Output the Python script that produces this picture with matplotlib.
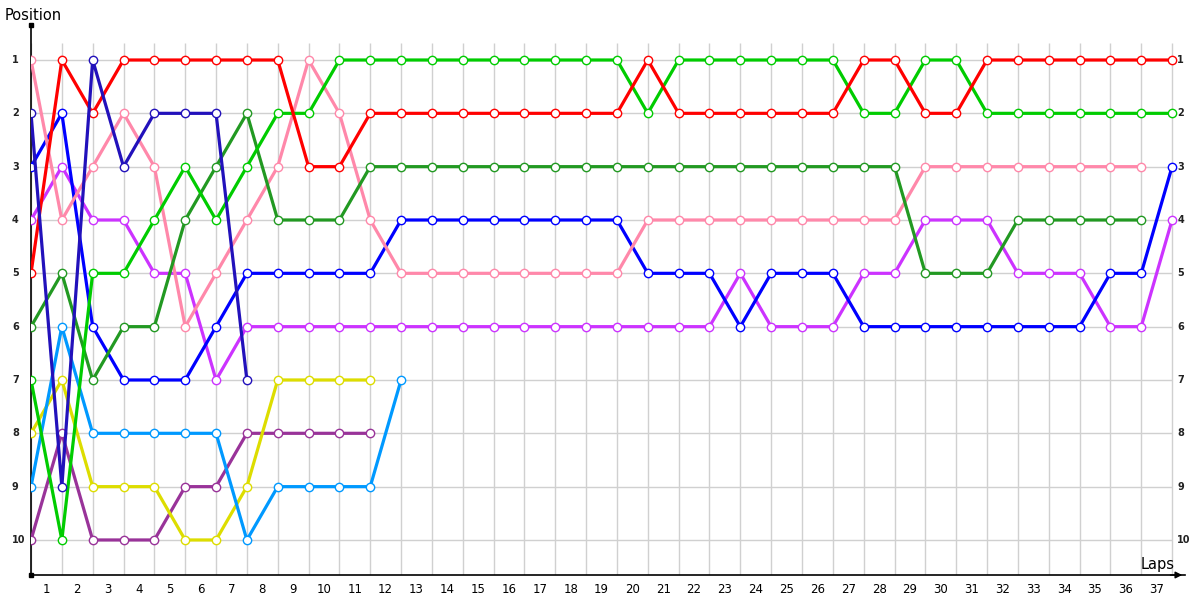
import numpy as np
import matplotlib.pyplot as plt

# lap chart: position of each car at the end of every lap (index 0 = grid)
lap_labels = [str(i) for i in range(1, 38)]
positions = list(range(1, 11))

red = [5, 1, 2, 1, 1, 1, 1, 1, 1, 3, 3, 2, 2, 2, 2, 2, 2, 2, 2, 2,
       1, 2, 2, 2, 2, 2, 2, 1, 1, 2, 2, 1, 1, 1, 1, 1, 1, 1]
lime = [7, 10, 5, 5, 4, 3, 4, 3, 2, 2, 1, 1, 1, 1, 1, 1, 1, 1, 1, 1,
        2, 1, 1, 1, 1, 1, 1, 2, 2, 1, 1, 2, 2, 2, 2, 2, 2, 2]
dark_green = [6, 5, 7, 6, 6, 4, 3, 2, 4, 4, 4, 3, 3, 3, 3, 3, 3, 3, 3, 3,
              3, 3, 3, 3, 3, 3, 3, 3, 3, 5, 5, 5, 4, 4, 4, 4, 4]
pink = [1, 4, 3, 2, 3, 6, 5, 4, 3, 1, 2, 4, 5, 5, 5, 5, 5, 5, 5, 5,
        4, 4, 4, 4, 4, 4, 4, 4, 4, 3, 3, 3, 3, 3, 3, 3, 3]
blue = [3, 2, 6, 7, 7, 7, 6, 5, 5, 5, 5, 5, 4, 4, 4, 4, 4, 4, 4, 4,
        5, 5, 5, 6, 5, 5, 5, 6, 6, 6, 6, 6, 6, 6, 6, 5, 5, 3]
navy = [2, 9, 1, 3, 2, 2, 2, 7]
magenta = [4, 3, 4, 4, 5, 5, 7, 6, 6, 6, 6, 6, 6, 6, 6, 6, 6, 6, 6, 6,
           6, 6, 6, 5, 6, 6, 6, 5, 5, 4, 4, 4, 5, 5, 5, 6, 6, 4]
light_blue = [9, 6, 8, 8, 8, 8, 8, 10, 9, 9, 9, 9, 7]
yellow = [8, 7, 9, 9, 9, 10, 10, 9, 7, 7, 7, 7]
purple = [10, 8, 10, 10, 10, 9, 9, 8, 8, 8, 8, 8]

series = [
    (purple, "#993399"),
    (yellow, "#DDDD00"),
    (light_blue, "#0099FF"),
    (magenta, "#CC33FF"),
    (blue, "#0000FF"),
    (pink, "#FF88AA"),
    (dark_green, "#229922"),
    (lime, "#00CC00"),
    (red, "#FF0000"),
    (navy, "#2211BB"),
]

n_laps = len(lap_labels)

fig = plt.figure(figsize=(12, 6), dpi=100)
# axes box in pixels: x 31..1185, y 25..575 (from top)
ax = fig.add_axes([31 / 1200, 25 / 600, (1185 - 31) / 1200, (575 - 25) / 600])
ax.set_xlim(0, (1185 - 31) / 30.84)
ax.set_ylim(1 + (575 - 60) / 53.33, 1 + (25 - 60) / 53.33)
ax.set_facecolor("white")

# grid
ax.vlines(np.arange(0, n_laps + 1), 0.68, ax.get_ylim()[0], color="#D0D0D0", lw=1, zorder=0)
ax.hlines(positions, 0, n_laps, color="#D0D0D0", lw=1, zorder=0)

for vals, col in series:
    x = np.arange(len(vals))
    ax.plot(x, vals, color=col, lw=2.3, solid_joinstyle="miter",
            marker="o", ms=6, mfc="white", mec=col, mew=1.0, zorder=3)

# axes lines
for s in ["top", "right"]:
    ax.spines[s].set_visible(False)
ax.spines["left"].set_linewidth(1.2)
ax.spines["bottom"].set_linewidth(1.2)
ax.plot([0], [1 + (25 - 60) / 53.33], "s", color="black", ms=2.5, clip_on=False)
ax.plot([0], [ax.get_ylim()[0]], "s", color="black", ms=2.5, clip_on=False)
ax.annotate("", xy=(1, 0), xytext=(0.985, 0), xycoords="axes fraction",
            arrowprops=dict(arrowstyle="-|>", color="black", lw=1.0, mutation_scale=10))

# tick labels
ax.set_xticks(np.arange(n_laps) + 0.5)
ax.set_xticklabels(lap_labels, fontsize=8.5)
ax.tick_params(axis="x", length=0, pad=6)
ax.set_yticks([])
for p in positions:
    ax.text(-0.62, p, str(p), fontsize=7, fontweight="bold", ha="left", va="center",
            color="#222222", clip_on=False)
    ax.text(n_laps + 0.17, p, str(p), fontsize=7, fontweight="bold", ha="left", va="center",
            color="#222222", clip_on=False)

fig.text(5 / 1200, 1 - 15 / 600, "Position", fontsize=10.5, ha="left", va="center")
fig.text(1175 / 1200, 1 - 564 / 600, "Laps", fontsize=10.5, ha="right", va="center")

fig.savefig("out.png", dpi=100)
